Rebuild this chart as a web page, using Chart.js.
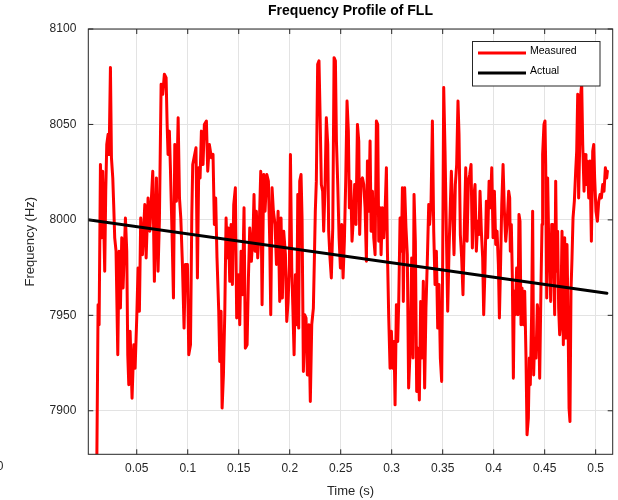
<!DOCTYPE html>
<html>
<head>
<meta charset="utf-8">
<script src="https://cdn.jsdelivr.net/npm/chart.js@4.4.1/dist/chart.umd.min.js"></script>
<style>
  html, body { margin: 0; padding: 0; background: #ffffff; }
  canvas { display: block; }
</style>
</head>
<body>
<canvas id="c" width="618" height="500"></canvas>
<script>
// ---------------- data ----------------
const TITLE = 'Frequency Profile of FLL';
const X_LABEL = 'Time (s)';
const Y_LABEL = 'Frequency (Hz)';
const SERIES_NAMES = ['Measured', 'Actual'];

const X_TICKS = [0.05, 0.1, 0.15, 0.2, 0.25, 0.3, 0.35, 0.4, 0.45, 0.5];
const X_TICK_LABELS = ['0.05', '0.1', '0.15', '0.2', '0.25', '0.3', '0.35', '0.4', '0.45', '0.5'];
const Y_TICKS = [7900, 7950, 8000, 8050, 8100];
const Y_TICK_LABELS = ['7900', '7950', '8000', '8050', '8100'];
const X_RANGE = [0.0025, 0.5167];
const Y_RANGE = [7877.2, 8100];

// Actual (reference) frequency
const ACTUAL_TIME = [0, 0.511];
const ACTUAL_FREQ = [8000.2, 7961.6];

// Measured frequency
const MEASURED_TIME = [
  0.0105, 0.0121, 0.0131, 0.0144, 0.0157, 0.0166, 0.0186, 0.0196, 0.0206, 0.0219,
  0.0229, 0.0242, 0.0252, 0.0265, 0.0274, 0.0284, 0.0297, 0.0314, 0.0327, 0.0340,
  0.0353, 0.0366, 0.0389, 0.0402, 0.0412, 0.0422, 0.0435, 0.0454, 0.0471, 0.0484,
  0.0500, 0.0513, 0.0526, 0.0539, 0.0556, 0.0579, 0.0592, 0.0611, 0.0628, 0.0644,
  0.0657, 0.0673, 0.0693, 0.0709, 0.0722, 0.0739, 0.0755, 0.0771, 0.0788, 0.0798,
  0.0807, 0.0820, 0.0830, 0.0847, 0.0860, 0.0873, 0.0889, 0.0906, 0.0919, 0.0932,
  0.0948, 0.0964, 0.0977, 0.0997, 0.1010, 0.1027, 0.1040, 0.1049,
  0.1068, 0.1081, 0.1095, 0.1108, 0.1121, 0.1134, 0.1150, 0.1163, 0.1183, 0.1196,
  0.1212, 0.1232, 0.1248, 0.1261, 0.1274, 0.1287, 0.1304, 0.1314, 0.1327, 0.1337,
  0.1350, 0.1363, 0.1376, 0.1389, 0.1399, 0.1412, 0.1425, 0.1438, 0.1451, 0.1467,
  0.1480, 0.1497, 0.1510, 0.1523, 0.1536, 0.1552, 0.1565, 0.1582, 0.1595, 0.1608,
  0.1624, 0.1641, 0.1650, 0.1660, 0.1673, 0.1686, 0.1699, 0.1716, 0.1729, 0.1745,
  0.1758, 0.1775, 0.1791, 0.1804, 0.1814, 0.1827, 0.1840, 0.1856, 0.1870, 0.1886,
  0.1902, 0.1915, 0.1928, 0.1941, 0.1958, 0.1971, 0.1984, 0.1997, 0.2007, 0.2020,
  0.2030, 0.2043, 0.2056, 0.2069, 0.2079,
  0.2088, 0.2098, 0.2111, 0.2121, 0.2134, 0.2147, 0.2160, 0.2173, 0.2189, 0.2202,
  0.2216, 0.2232, 0.2242, 0.2251, 0.2261, 0.2274, 0.2287, 0.2297, 0.2310, 0.2323,
  0.2333, 0.2346, 0.2359, 0.2373, 0.2382, 0.2395, 0.2408, 0.2422, 0.2435, 0.2448,
  0.2458, 0.2471, 0.2484, 0.2497, 0.2510, 0.2523, 0.2536, 0.2549, 0.2562, 0.2575,
  0.2585, 0.2598, 0.2611, 0.2628, 0.2637, 0.2650, 0.2664, 0.2677, 0.2686, 0.2699,
  0.2713, 0.2726, 0.2739, 0.2752, 0.2762, 0.2775, 0.2788, 0.2798, 0.2811, 0.2824,
  0.2837, 0.2850, 0.2863, 0.2873, 0.2886, 0.2896, 0.2909, 0.2922, 0.2935, 0.2948,
  0.2958, 0.2971, 0.2984, 0.2997, 0.3010, 0.3023, 0.3033, 0.3046, 0.3059, 0.3069,
  0.3082, 0.3095, 0.3105,
  0.3114, 0.3127, 0.3140, 0.3153, 0.3166, 0.3183, 0.3196, 0.3209, 0.3219, 0.3232,
  0.3245, 0.3258, 0.3271, 0.3284, 0.3297, 0.3310, 0.3323, 0.3336, 0.3350, 0.3363,
  0.3372, 0.3386, 0.3399, 0.3412, 0.3425, 0.3438, 0.3451, 0.3464, 0.3477, 0.3490,
  0.3500, 0.3510, 0.3523, 0.3536, 0.3549, 0.3562, 0.3575, 0.3585, 0.3598, 0.3611,
  0.3624, 0.3637, 0.3650, 0.3660, 0.3673, 0.3686, 0.3699, 0.3713, 0.3726, 0.3739,
  0.3752, 0.3765, 0.3778, 0.3791, 0.3804, 0.3817, 0.3830, 0.3843, 0.3856, 0.3866,
  0.3879, 0.3892, 0.3902, 0.3915, 0.3928, 0.3941, 0.3955, 0.3968, 0.3981, 0.3994,
  0.4007, 0.4020, 0.4033, 0.4046, 0.4056, 0.4069, 0.4079, 0.4092, 0.4105, 0.4118,
  0.4131,
  0.4147, 0.4157, 0.4163, 0.4173, 0.4183, 0.4193, 0.4202, 0.4212, 0.4225, 0.4238,
  0.4248, 0.4258, 0.4268, 0.4278, 0.4291, 0.4304, 0.4317, 0.4327, 0.4340, 0.4350,
  0.4359, 0.4372, 0.4382, 0.4392, 0.4402, 0.4415, 0.4428, 0.4441, 0.4451, 0.4464,
  0.4474, 0.4480, 0.4493, 0.4503, 0.4510, 0.4520, 0.4529, 0.4539, 0.4549, 0.4559,
  0.4569, 0.4578, 0.4588, 0.4598, 0.4608, 0.4618, 0.4627, 0.4637, 0.4647, 0.4657,
  0.4670, 0.4683, 0.4696, 0.4709, 0.4719, 0.4729, 0.4739, 0.4748, 0.4758, 0.4768,
  0.4778, 0.4791, 0.4804, 0.4814, 0.4824, 0.4833, 0.4843, 0.4853, 0.4863, 0.4873,
  0.4886, 0.4896, 0.4905, 0.4918, 0.4932, 0.4945, 0.4958, 0.4971, 0.4981, 0.4990,
  0.5003, 0.5017, 0.5030, 0.5043, 0.5056, 0.5069, 0.5082, 0.5095, 0.5108, 0.5115
];
const MEASURED_FREQ = [
  7850, 7955.6, 7945.1, 8029.0, 7990.6, 8025.5, 7973.1, 8015.0, 8039.5, 8044.8,
  8034.3, 8079.8, 8032.5, 8022.0, 8008.0, 7990.6, 7983.6, 7929.3, 7983.6, 7953.8,
  7990.6, 7964.3, 8001.0, 7983.6, 7929.3, 7913.6, 7941.6, 7906.6, 7934.6, 7922.3,
  7948.6, 7974.8, 7952.1, 8001.0, 7981.8, 8008.0, 7980.1, 8011.5, 7994.1, 8011.5,
  8025.5, 7967.8, 8022.0, 7973.1, 7999.3, 8071.0, 8065.8, 8076.3, 8074.5, 8050.0,
  8034.3, 8046.5, 8027.3, 7990.6, 7959.1, 8039.5, 8009.8, 8053.5, 8011.5, 8001.0,
  7976.6, 7943.3, 7976.6, 7976.6, 7929.3, 7934.6, 8002.8, 8029.0,
  8034.3, 8037.8, 7969.6, 8027.3, 8022.0, 8046.5, 8029.0, 8050.0, 8051.8, 8025.5,
  8039.5, 8032.5, 8034.3, 7997.6, 8011.5, 7980.1, 7952.1, 7925.8, 7952.1, 7901.4,
  7918.8, 7950.3, 8001.0, 7980.1, 7995.8, 7967.8, 7997.6, 7966.1, 8008.0, 8016.8,
  7948.6, 7971.3, 7945.1, 7983.6, 7960.8, 8006.3, 7932.8, 7934.6, 7969.6, 7995.8,
  7978.3, 7994.1, 8013.3, 7983.6, 8004.5, 7980.1, 7992.3, 8025.5, 7955.6, 8023.8,
  8004.5, 8023.8, 8020.3, 7988.8, 7950.3, 8016.8, 8004.5, 7997.6, 7976.6, 8004.5,
  7957.3, 8001.0, 7959.1, 7994.1, 7981.8, 7946.8, 7957.3, 7976.6, 8034.3, 7974.8,
  7955.6, 7929.3, 7971.3, 7945.1, 8013.3,
  7943.3, 8020.3, 8023.8, 8001.0, 7920.6, 7950.3, 7948.6, 7918.8, 7945.1, 7904.9,
  7945.1, 7953.8, 7980.1, 8004.5, 8020.3, 8081.5, 8083.3, 8057.0, 8018.5, 8015.0,
  7994.1, 8016.8, 8053.5, 8039.5, 7994.1, 7980.1, 7969.6, 7995.8, 8085.0, 8083.3,
  8041.3, 8018.5, 7990.6, 7974.8, 7997.6, 7969.6, 7988.8, 8020.3, 8062.3, 8046.5,
  8006.3, 8020.3, 7988.8, 8004.5, 8018.5, 7997.6, 8050.0, 8041.3, 7992.3, 8020.3,
  8022.0, 8018.5, 8006.3, 7978.3, 8030.8, 8004.5, 8041.3, 7994.1, 8015.0, 7990.6,
  7981.8, 8051.8, 8050.0, 7988.8, 8006.3, 7981.8, 8006.3, 7990.6, 8004.5, 8027.3,
  7983.6, 7948.6, 7922.3, 7941.6, 7922.3, 7936.3, 7903.1, 7955.6, 7936.3, 7957.3,
  8001.0, 7983.6, 8016.8,
  7957.3, 8016.8, 7995.8, 7981.8, 7911.9, 7934.6, 7980.1, 7927.6, 8013.3, 7988.8,
  7910.1, 7932.8, 7905.7, 7957.3, 7927.6, 7967.8, 7911.9, 7953.8, 7980.1, 8008.0,
  7997.6, 8009.8, 8051.8, 7994.1, 7966.1, 7983.6, 7943.3, 7966.1, 7927.6, 7915.4,
  7980.1, 8069.3, 8036.0, 7994.1, 7952.1, 7983.6, 8008.0, 8025.5, 8004.5, 7981.8,
  8018.5, 8029.0, 8062.3, 8044.8, 7992.3, 7980.1, 7960.8, 7997.6, 8027.3, 7988.8,
  8020.3, 8023.8, 8029.0, 7985.3, 8011.5, 8018.5, 7983.6, 7999.3, 7992.3, 8015.0,
  7994.1, 7980.1, 7950.3, 7974.8, 8009.8, 7990.6, 8020.3, 8006.3, 8027.3, 7990.6,
  8015.0, 7987.1, 7994.1, 7976.6, 7948.6, 7980.1, 8008.0, 8029.0, 8004.5, 7988.8,
  7997.6,
  8015.0, 8011.5, 7983.6, 7997.6, 7969.6, 7917.1, 7962.6, 7950.3, 7974.8, 7950.3,
  8002.8, 7999.3, 7945.1, 7964.3, 7945.1, 7962.6, 7927.6, 7887.4, 7896.1, 7927.6,
  7913.6, 7950.3, 8004.5, 7918.8, 7938.1, 7927.6, 7955.6, 7948.6, 7917.1, 7966.1,
  7997.6, 8034.3, 8050.0, 8051.8, 8029.0, 7959.1, 8022.0, 7990.6, 7978.3, 7957.3,
  7997.6, 7997.6, 7980.1, 7950.3, 8020.3, 7973.1, 7994.1, 7953.8, 7939.8, 7945.1,
  7994.1, 7934.6, 7990.6, 7938.1, 7987.1, 7948.6, 7901.4, 7894.4, 7962.6, 7980.1,
  8001.0, 8009.8, 8025.5, 8036.0, 8065.8, 8011.5, 8037.8, 8065.8, 8071.0, 8039.5,
  8015.0, 8034.3, 8018.5, 8030.8, 8011.5, 8030.8, 7988.8, 8036.0, 8039.5, 8022.0,
  8004.5, 7999.3, 8009.8, 8013.3, 8011.5, 8018.5, 8015.0, 8027.3, 8022.0, 8025.5
];

// ---------------- styling ----------------
const FONT = '"Liberation Sans", Arial, Helvetica, sans-serif';
const AXIS_COLOR = '#262626';
const GRID_COLOR = '#e3e3e3';

const toPoints = (xs, ys) => xs.map((x, i) => ({ x: x, y: ys[i] }));

const decor = {
  id: 'decor',
  beforeDraw(chart) {
    const c = chart.ctx;
    c.save();
    c.fillStyle = '#ffffff';
    c.fillRect(0, 0, chart.width, chart.height);
    c.restore();
  },
  afterDatasetsDraw(chart) {
    const c = chart.ctx, a = chart.chartArea, xs = chart.scales.x, ys = chart.scales.y;
    c.save();
    c.strokeStyle = AXIS_COLOR;
    c.lineWidth = 1;
    c.strokeRect(a.left, a.top, a.right - a.left, a.bottom - a.top);
    const TL = 5;
    c.beginPath();
    X_TICKS.forEach(v => {
      const p = xs.getPixelForValue(v);
      c.moveTo(p, a.bottom); c.lineTo(p, a.bottom - TL);
      c.moveTo(p, a.top); c.lineTo(p, a.top + TL);
    });
    Y_TICKS.forEach(v => {
      const p = ys.getPixelForValue(v);
      c.moveTo(a.left, p); c.lineTo(a.left + TL, p);
      c.moveTo(a.right, p); c.lineTo(a.right - TL, p);
    });
    c.stroke();
    c.restore();
  },
  afterDraw(chart) {
    const c = chart.ctx, a = chart.chartArea;
    c.save();
    // Title
    c.fillStyle = '#000000';
    c.font = 'bold 14px ' + FONT;
    c.textAlign = 'center';
    c.textBaseline = 'middle';
    c.fillText(TITLE, (a.left + a.right) / 2, 11);
    // X label
    c.fillStyle = AXIS_COLOR;
    c.font = '13px ' + FONT;
    c.fillText(X_LABEL, (a.left + a.right) / 2, 491);
    // stray "0" tick label at far left
    c.font = '12px ' + FONT;
    c.fillText('0', 0, 467);
    // Y label
    c.save();
    c.font = '13px ' + FONT;
    c.translate(30, (a.top + a.bottom) / 2);
    c.rotate(-Math.PI / 2);
    c.fillText(Y_LABEL, 0, 0);
    c.restore();
    // Legend
    const bx = 472.5, by = 41.5, bw = 127.5, bh = 44.5;
    c.fillStyle = '#ffffff';
    c.fillRect(bx, by, bw, bh);
    c.strokeStyle = AXIS_COLOR;
    c.lineWidth = 1;
    c.strokeRect(bx, by, bw, bh);
    const entries = [
      { ds: chart.data.datasets[1], ly: 53, ty: 51 },
      { ds: chart.data.datasets[0], ly: 73, ty: 71.5 }
    ];
    entries.forEach(e => {
      c.strokeStyle = e.ds.borderColor;
      c.lineWidth = 3;
      c.beginPath();
      c.moveTo(478, e.ly); c.lineTo(526, e.ly);
      c.stroke();
      c.fillStyle = '#000000';
      c.font = '10.5px ' + FONT;
      c.textAlign = 'left';
      c.textBaseline = 'middle';
      c.fillText(e.ds.label, 530, e.ty);
    });
    c.restore();
  }
};

new Chart(document.getElementById('c'), {
  type: 'line',
  data: {
    datasets: [
      {
        label: SERIES_NAMES[1],
        data: toPoints(ACTUAL_TIME, ACTUAL_FREQ),
        borderColor: '#000000',
        borderWidth: 3,
        pointRadius: 0,
        order: 0,
        clip: 0
      },
      {
        label: SERIES_NAMES[0],
        data: toPoints(MEASURED_TIME, MEASURED_FREQ),
        borderColor: '#ff0000',
        borderWidth: 3,
        pointRadius: 0,
        order: 1,
        clip: 0
      }
    ]
  },
  options: {
    responsive: false,
    animation: false,
    devicePixelRatio: 1,
    layout: { padding: { left: 0, right: 5.3, top: 29, bottom: 0 } },
    elements: { line: { tension: 0, borderJoinStyle: 'round', borderCapStyle: 'round' } },
    plugins: {
      legend: { display: false },
      title: { display: false },
      tooltip: { enabled: false }
    },
    scales: {
      x: {
        type: 'linear',
        min: X_RANGE[0],
        max: X_RANGE[1],
        afterBuildTicks(s) { s.ticks = X_TICKS.map(v => ({ value: v })); },
        afterFit(s) { s.height = 45.7; },
        grid: { color: GRID_COLOR, drawTicks: false, lineWidth: 1 },
        border: { display: false },
        ticks: {
          autoSkip: false, maxRotation: 0, padding: 7, color: AXIS_COLOR,
          font: { family: FONT, size: 12 },
          callback: (v, i) => X_TICK_LABELS[i]
        }
      },
      y: {
        type: 'linear',
        min: Y_RANGE[0],
        max: Y_RANGE[1],
        afterBuildTicks(s) { s.ticks = Y_TICKS.map(v => ({ value: v })); },
        afterFit(s) { s.width = 88.3; },
        grid: { color: GRID_COLOR, drawTicks: false, lineWidth: 1 },
        border: { display: false },
        ticks: {
          autoSkip: false, padding: 12, color: AXIS_COLOR,
          font: { family: FONT, size: 12 },
          callback: (v, i) => Y_TICK_LABELS[i]
        }
      }
    }
  },
  plugins: [decor]
});
</script>
</body>
</html>
